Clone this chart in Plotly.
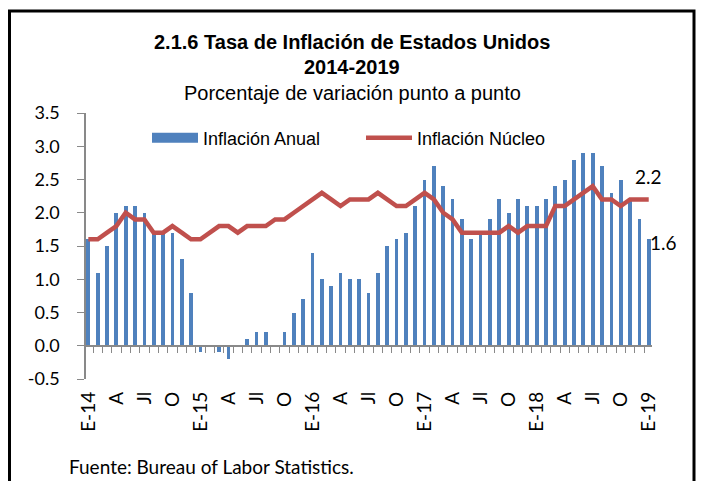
import plotly.graph_objects as go

# ---- data (Jan 2014 - Jan 2019, monthly) ----
months = [f"{y}-{m:02d}" for y in range(2014, 2019) for m in range(1, 13)] + ["2019-01"]

inflacion_anual = [
    1.6, 1.1, 1.5, 2.0, 2.1, 2.1, 2.0, 1.7, 1.7, 1.7, 1.3, 0.8,
    -0.1, 0.0, -0.1, -0.2, 0.0, 0.1, 0.2, 0.2, 0.0, 0.2, 0.5, 0.7,
    1.4, 1.0, 0.9, 1.1, 1.0, 1.0, 0.8, 1.1, 1.5, 1.6, 1.7, 2.1,
    2.5, 2.7, 2.4, 2.2, 1.9, 1.6, 1.7, 1.9, 2.2, 2.0, 2.2, 2.1,
    2.1, 2.2, 2.4, 2.5, 2.8, 2.9, 2.9, 2.7, 2.3, 2.5, 2.2, 1.9,
    1.6,
]

inflacion_nucleo = [
    1.6, 1.6, 1.7, 1.8, 2.0, 1.9, 1.9, 1.7, 1.7, 1.8, 1.7, 1.6,
    1.6, 1.7, 1.8, 1.8, 1.7, 1.8, 1.8, 1.8, 1.9, 1.9, 2.0, 2.1,
    2.2, 2.3, 2.2, 2.1, 2.2, 2.2, 2.2, 2.3, 2.2, 2.1, 2.1, 2.2,
    2.3, 2.2, 2.0, 1.9, 1.7, 1.7, 1.7, 1.7, 1.7, 1.8, 1.7, 1.8,
    1.8, 1.8, 2.1, 2.1, 2.2, 2.3, 2.4, 2.2, 2.2, 2.1, 2.2, 2.2,
    2.2,
]

tick_labels = ["E-14", "A", "Jl", "O", "E-15", "A", "Jl", "O", "E-16", "A", "Jl", "O",
               "E-17", "A", "Jl", "O", "E-18", "A", "Jl", "O", "E-19"]

y_tick_values = [-0.5, 0.0, 0.5, 1.0, 1.5, 2.0, 2.5, 3.0, 3.5]
y_tick_labels = ["-0.5", "0.0", "0.5", "1.0", "1.5", "2.0", "2.5", "3.0", "3.5"]

# ---- styling ----
BLUE = "#4F81BD"
RED = "#C0504D"
AXIS = "#898989"
SANS = "Liberation Sans, Arial, sans-serif"
CAL = "Lato, Carlito, Calibri, sans-serif"

idx = list(range(len(months)))
tickvals = list(range(0, len(months), 3))

fig = go.Figure()

fig.add_trace(go.Bar(
    x=idx, y=inflacion_anual, width=0.4,
    marker=dict(color=BLUE, line=dict(width=0)),
    name="Inflación Anual", showlegend=False,
))
# legend swatch for bars (wide rectangle like the original)
fig.add_trace(go.Scatter(
    x=[None], y=[None], mode="lines",
    line=dict(color=BLUE, width=10),
    name="Inflación Anual", showlegend=True,
))
fig.add_trace(go.Scatter(
    x=idx, y=inflacion_nucleo, mode="lines", xaxis="x2",
    line=dict(color=RED, width=4.5),
    name="Inflación Núcleo", showlegend=True,
))

L, R, T, B = 86, 49, 113, 102
W, H = 701, 481
pw, ph = W - L - R, H - T - B

def px_x(p):
    return (p - L) / pw

def px_y(p):
    return (H - B - p) / ph

ymin, ymax = y_tick_values[0], y_tick_values[-1]

fig.update_layout(
    width=W, height=H,
    margin=dict(l=L, r=R, t=T, b=B),
    paper_bgcolor="white", plot_bgcolor="white",
    bargap=0,
    xaxis=dict(
        range=[-0.25, 60.35],
        tickmode="array", tickvals=tickvals, ticktext=tick_labels,
        tickangle=-90, showline=False, ticks="", showgrid=False, zeroline=False,
        ticklabelstandoff=8,
        tickfont=dict(family=CAL, size=19, color="black"),
    ),
    xaxis2=dict(
        overlaying="x", matches="x", anchor="free",
        position=(0 - ymin) / (ymax - ymin), side="bottom",
        showline=True, linecolor=AXIS, linewidth=1.5,
        ticks="outside", ticklen=6, tickcolor=AXIS, tickwidth=1,
        tickmode="array", tickvals=[i + 0.5 for i in range(len(months) - 1)],
        showticklabels=False, showgrid=False, zeroline=False,
    ),
    yaxis=dict(
        range=[ymin, ymax],
        tickmode="array", tickvals=y_tick_values, ticktext=y_tick_labels,
        showline=True, linecolor=AXIS, linewidth=1.5,
        ticks="outside", ticklen=7, tickcolor=AXIS,
        showgrid=False, zeroline=False, ticklabelstandoff=14,
        tickfont=dict(family=CAL, size=18, color="black"),
    ),
    legend=dict(
        orientation="h", x=px_x(147), y=px_y(138), xanchor="left", yanchor="middle",
        font=dict(family=SANS, size=18, color="black"),
        itemwidth=46, bgcolor="rgba(0,0,0,0)", entrywidth=153, entrywidthmode="pixels",
    ),
    showlegend=True,
)

annotations = [
    dict(text="<b>2.1.6 Tasa de Inflación de Estados Unidos</b>", x=px_x(352), y=px_y(42)),
    dict(text="<b>2014-2019</b>", x=px_x(352), y=px_y(67)),
    dict(text="Porcentaje de variación punto a punto", x=px_x(352), y=px_y(93)),
]
for a in annotations:
    fig.add_annotation(xref="paper", yref="paper", showarrow=False,
                       xanchor="center", yanchor="middle",
                       font=dict(family=SANS, size=20, color="black"), **a)

fig.add_annotation(x=idx[-1], y=inflacion_nucleo[-1], xref="x", yref="y",
                   text=f"{inflacion_nucleo[-1]:.1f}", showarrow=False,
                   xshift=0, yshift=23, font=dict(family=CAL, size=19, color="black"))
fig.add_annotation(x=idx[-1], y=inflacion_anual[-1], xref="x", yref="y",
                   text=f"{inflacion_anual[-1]:.1f}", showarrow=False,
                   xshift=-1, yshift=-3, xanchor="left",
                   font=dict(family=CAL, size=19, color="black"))
fig.add_annotation(xref="paper", yref="paper", x=px_x(67), y=px_y(466),
                   xanchor="left", yanchor="middle", showarrow=False,
                   text="Fuente: Bureau of Labor Statistics.",
                   font=dict(family=CAL, size=19, color="black"))

# outer frame
fig.add_shape(type="rect", xref="paper", yref="paper",
              x0=px_x(9.5), x1=px_x(694), y0=px_y(495), y1=px_y(11),
              line=dict(color="black", width=3), fillcolor="rgba(0,0,0,0)", layer="below")

fig.write_html("out.html", config={"displayModeBar": False},
               post_script="document.body.style.margin='0px';")
